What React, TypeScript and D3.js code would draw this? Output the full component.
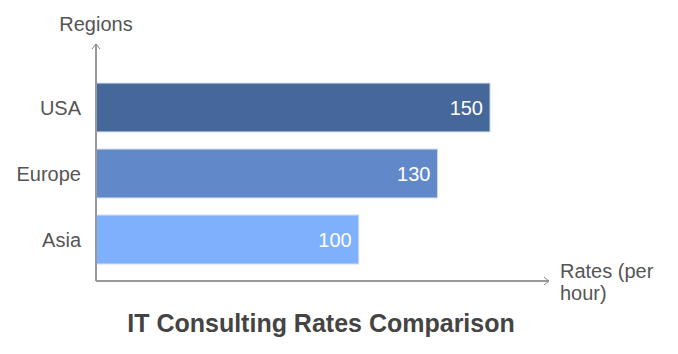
import * as d3 from "d3";

const regions = ["USA", "Europe", "Asia"];
const rates = [150, 130, 100];
const barColors = ["#466799", "#6189c9", "#7fb0fe"];

const W = 678;
const H = 354;
const x0 = 96;
const axisY = 281;

export default function App() {
  const x = d3.scaleLinear().domain([0, 150]).range([x0, 490]);
  const y = d3
    .scaleBand<string>()
    .domain(regions)
    .range([74.5, 272.5])
    .paddingInner(0.26)
    .paddingOuter(0.13);

  const font = "'Liberation Sans', Arial, sans-serif";

  return (
    <svg
      width={W}
      height={H}
      style={{ position: "absolute", left: 0, top: 0 }}
      fontFamily={font}
    >
      <rect width={W} height={H} fill="#fff" />
      {regions.map((r, i) => (
        <g key={r}>
          <rect
            x={x(0)}
            y={y(r)}
            width={x(rates[i]) - x(0)}
            height={y.bandwidth()}
            fill={barColors[i]}
            stroke="#c9d6ea"
            strokeWidth={1}
          />
          <text
            x={x(rates[i]) - 7}
            y={y(r)! + y.bandwidth() / 2}
            dy="0.35em"
            textAnchor="end"
            fill="#fff"
            fontSize={20}
          >
            {rates[i]}
          </text>
          <text
            x={81}
            y={y(r)! + y.bandwidth() / 2}
            dy="0.35em"
            textAnchor="end"
            fill="#555"
            fontSize={20}
          >
            {r}
          </text>
        </g>
      ))}
      {/* axes */}
      <line x1={x0} y1={axisY} x2={x0} y2={44} stroke="#999" strokeWidth={2} />
      <path d={`M${x0 - 4},${49} L${x0},${44} L${x0 + 4},${49}`} fill="none" stroke="#888" strokeWidth={1} />
      <line x1={x0} y1={axisY} x2={549} y2={axisY} stroke="#999" strokeWidth={2} />
      <path d={`M${544},${axisY - 4} L${549},${axisY} L${544},${axisY + 4}`} fill="none" stroke="#888" strokeWidth={1} />
      <text x={x0} y={31} textAnchor="middle" fill="#555" fontSize={20}>
        Regions
      </text>
      <text x={560} y={278} fill="#555" fontSize={20}>
        Rates (per
      </text>
      <text x={560} y={300} fill="#555" fontSize={20}>
        hour)
      </text>
      <text
        x={321}
        y={332}
        textAnchor="middle"
        fill="#444"
        fontSize={25}
        fontWeight="bold"
      >
        IT Consulting Rates Comparison
      </text>
    </svg>
  );
}
